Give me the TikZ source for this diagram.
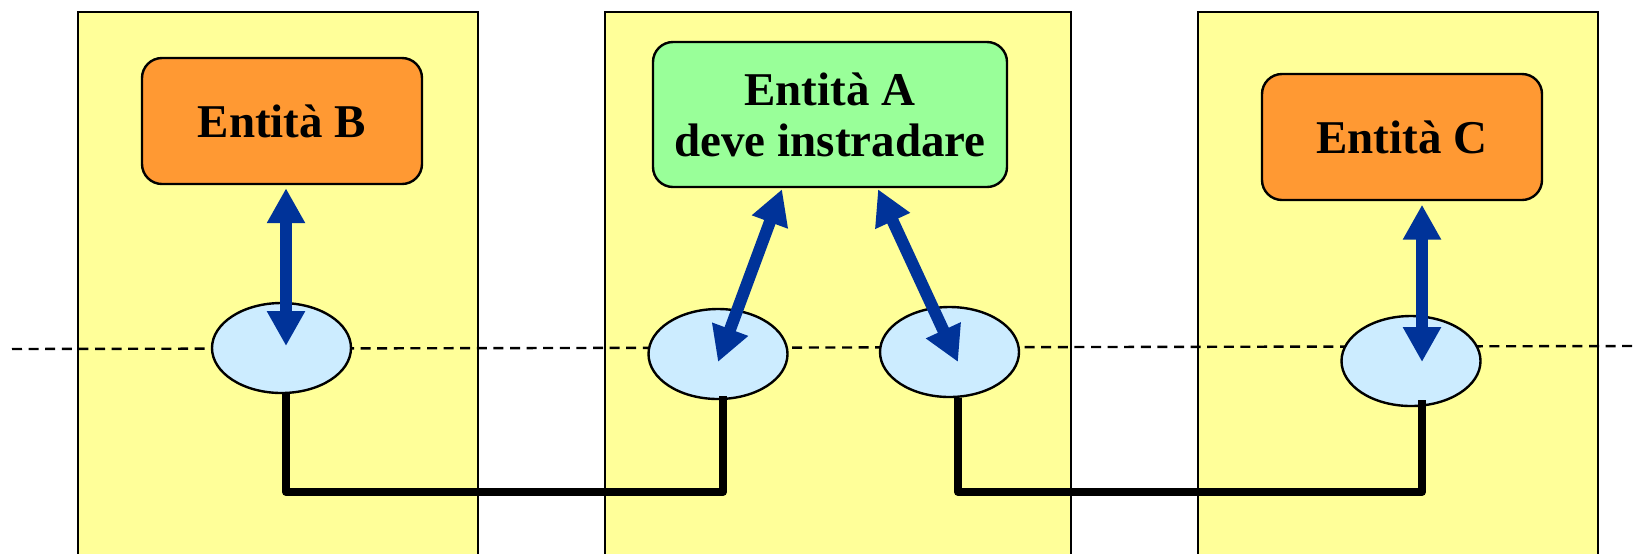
\documentclass[tikz,border=0pt]{standalone}
\usepackage{fontspec}
\setmainfont{Liberation Serif}
\usetikzlibrary{shapes.geometric,arrows.meta,positioning}
\definecolor{hostyellow}{HTML}{FFFF99}
\definecolor{entorange}{HTML}{FF9933}
\definecolor{entgreen}{HTML}{99FF99}
\definecolor{portblue}{HTML}{CCECFF}
\definecolor{linkblue}{HTML}{003399}
\begin{document}
\begin{tikzpicture}[x=0.5pt, y=-0.5pt,
    host/.style={rectangle, draw, line width=1pt, fill=hostyellow, anchor=north, minimum height=280pt},
    entity/.style={rectangle, draw, line width=1.2pt, rounded corners=10pt, minimum width=140pt, minimum height=63pt, align=center, font=\fontsize{23.5}{25.5}\selectfont\bfseries},
    port/.style={ellipse, draw, line width=1.2pt, fill=portblue, minimum width=69.5pt, minimum height=45pt, inner sep=0pt},
    link/.style={draw=linkblue, line width=6pt, {Triangle[length=17.5pt,width=18pt]}-{Triangle[length=17.5pt,width=18pt]}},
    wire/.style={line width=3.8pt, line join=round}]

    \clip (0,0) rectangle (1637,553);

    % Hosts
    \node[host, minimum width=200.25pt] (hostB) at (277.75,10.5) {};
    \node[host, minimum width=233pt] (hostA) at (838,10.5) {};
    \node[host, minimum width=200pt] (hostC) at (1398,10.5) {};

    % Dashed network line
    \coordinate (netL) at (12,349);
    \coordinate (netR) at (1637,346);
    \draw[line width=1.2pt, dash pattern=on 5pt off 3.3pt] (netL) -- (netR);

    % Entities
    \node[entity, fill=entorange] (entB) at (282,121) {Entità B};
    \node[entity, fill=entgreen, minimum width=177pt, minimum height=72.5pt] (entA) at (830,114.5) {Entità A\\deve instradare};
    \node[entity, fill=entorange] (entC) at (1402,137) {Entità C};

    % Ports
    \node[port] (portB) at (281.5,348) {};
    \node[port] (portA1) at (718,354) {};
    \node[port] (portA2) at (949.5,352) {};
    \node[port] (portC) at (1411,361) {};

    % Links entity - port
    \draw[link] ([xshift=2pt,yshift=-1.5pt]entB.south) -- ([xshift=2.25pt,yshift=1pt]portB.center);
    \draw[link] ([xshift=-24pt,yshift=-0.5pt]entA.south) -- ([yshift=-4pt]portA1.center);
    \draw[link] ([xshift=24pt,yshift=-0.5pt]entA.south) -- ([xshift=4.25pt,yshift=-5pt]portA2.center);
    \draw[link] ([xshift=10pt,yshift=-1.75pt]entC.south) -- ([xshift=5.5pt,yshift=-0.5pt]portC.center);

    % Wires between ports
    \draw[wire] ([xshift=2.25pt]portB.south) -- ++(0pt,-49pt) -| ([xshift=2.5pt,yshift=2pt]portA1.south);
    \draw[wire] ([xshift=4.25pt]portA2.south) -- ++(0pt,-47pt) -| ([xshift=5.5pt,yshift=3.5pt]portC.south);

\end{tikzpicture}
\end{document}
